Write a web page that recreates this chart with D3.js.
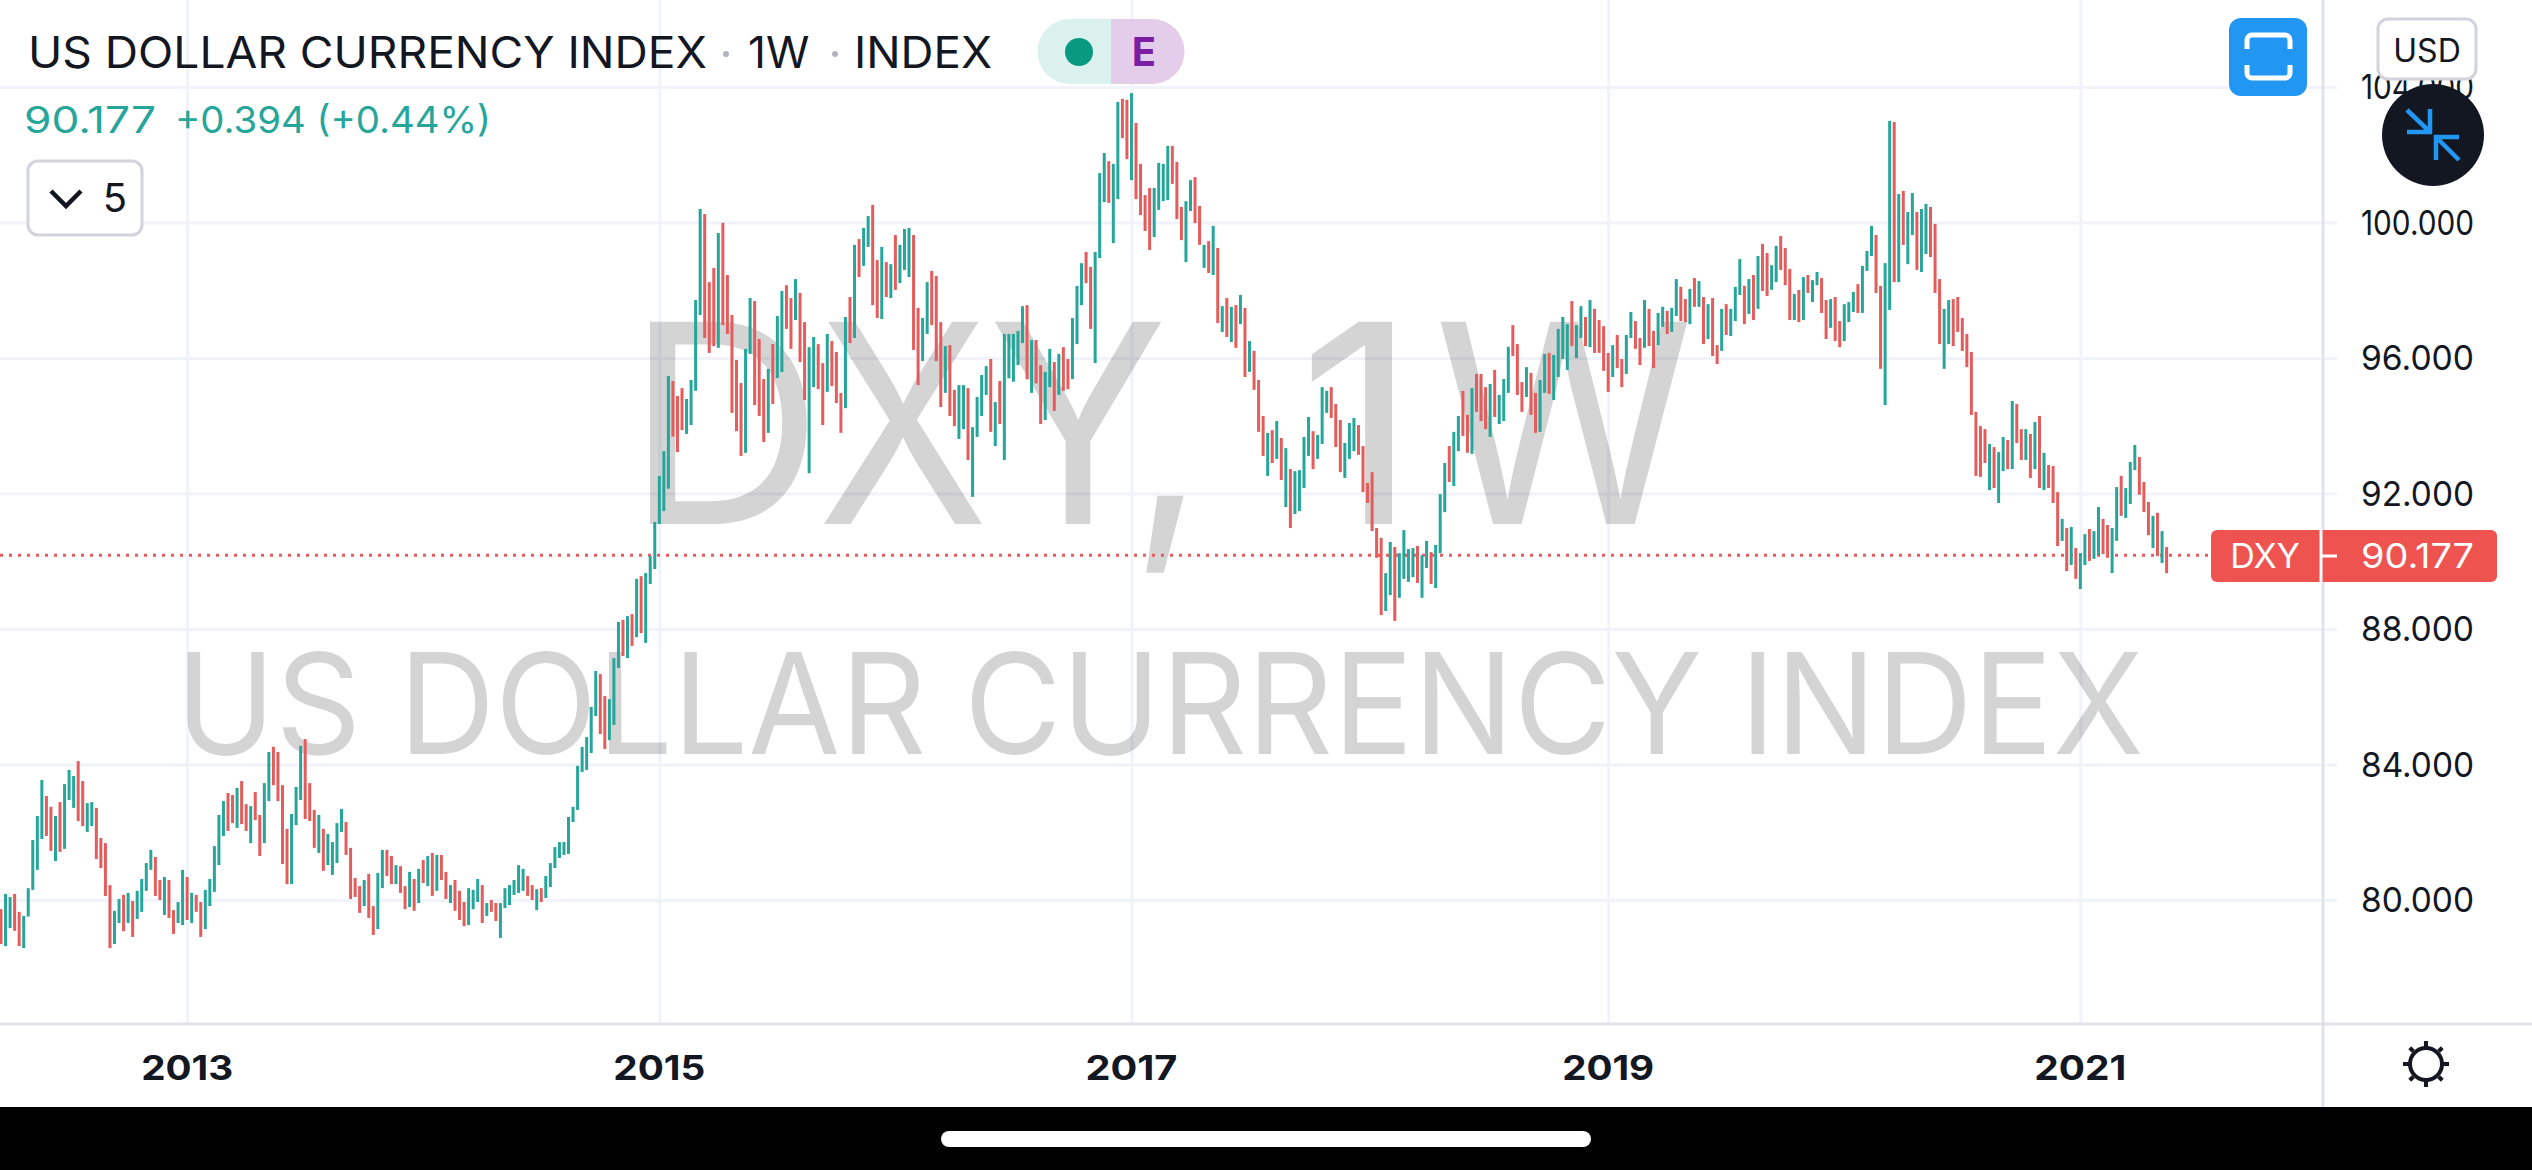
<!DOCTYPE html>
<html>
<head>
<meta charset="utf-8">
<title>US Dollar Currency Index</title>
<script src="https://d3js.org/d3.v7.min.js"></script>
<style>
body { margin: 0; background: #fff; overflow: hidden; }
text { font-family: Inter, "Noto Sans", sans-serif; fill: #131722; }
.axis path, .axis line { stroke: none; }
.grid line { stroke: #f0f3fa; stroke-width: 3; }
.grid text { display: none; }
</style>
</head>
<body>
<svg width="2532" height="1170"></svg>
<script>
// weekly bars
var highs = [
  79.73,80.18,80.09,80.18,79.65,79.53,80.35,81.77,82.48,83.54,
  83.07,82.75,82.48,82.89,83.42,83.84,83.66,84.10,83.51,82.86,
  82.89,82.72,81.83,81.68,80.44,79.68,80.03,80.15,80.21,79.97,
  80.27,80.62,81.09,81.48,81.27,80.59,80.68,80.59,79.70,79.94,
  80.89,80.68,80.21,80.15,79.94,80.30,80.62,81.59,82.51,82.92,
  83.16,83.10,83.31,83.51,82.83,82.77,83.19,82.51,83.45,84.37,
  84.52,84.37,83.39,82.10,82.54,83.34,84.55,84.75,83.45,82.66,
  82.51,82.10,81.95,81.71,82.27,82.69,82.30,81.54,80.65,80.41,
  80.59,80.77,79.82,80.80,81.48,81.48,81.30,81.03,81.00,80.41,
  80.83,80.62,80.92,81.18,81.30,81.39,81.33,81.33,80.83,80.44,
  80.59,80.27,79.94,80.35,80.30,80.62,80.44,79.91,80.00,79.91,
  79.91,80.35,80.44,80.59,81.03,80.92,80.71,80.44,80.32,80.35,
  80.71,81.09,81.56,81.71,81.71,82.45,82.75,83.96,84.52,84.81,
  85.70,86.76,86.67,86.02,85.93,87.14,88.21,88.27,88.38,88.44,
  89.48,89.56,89.65,90.15,91.16,92.52,93.25,95.47,95.32,94.88,
  95.11,94.79,95.35,97.71,100.40,100.25,98.24,98.66,99.69,99.99,
  98.45,97.27,95.94,95.26,96.27,97.77,97.68,96.56,95.38,95.68,
  96.41,97.24,97.98,98.15,97.77,98.33,97.92,97.06,96.32,96.62,
  96.41,95.85,96.71,96.50,96.18,94.97,97.21,97.80,99.34,99.51,
  99.84,100.19,100.52,98.89,99.28,98.83,98.77,99.63,99.34,99.81,
  99.84,99.63,97.48,97.18,98.24,98.57,98.42,97.06,96.35,96.38,
  95.06,95.20,95.20,95.11,93.96,94.85,95.50,95.76,95.97,94.70,
  95.32,96.71,96.71,96.71,96.80,97.53,97.56,96.53,96.53,95.79,
  95.59,96.27,95.88,96.12,96.32,95.97,97.18,98.13,98.80,99.13,
  98.69,99.13,101.46,102.05,101.81,101.73,103.56,103.65,103.62,103.82,
  102.94,101.73,100.81,101.02,101.02,101.76,101.73,102.26,102.26,101.79,
  100.46,100.63,101.25,101.34,100.49,99.34,99.45,99.90,99.25,97.53,
  97.77,97.51,97.56,97.86,97.48,96.50,96.21,95.35,94.29,93.79,
  93.87,94.14,93.64,93.34,92.72,92.66,92.69,93.67,94.26,93.84,
  93.73,95.14,95.03,95.14,94.64,94.17,93.49,94.08,94.23,94.02,
  93.40,92.31,92.63,90.98,90.69,89.65,90.57,90.42,90.24,90.92,
  90.36,90.39,90.45,90.18,90.60,90.27,90.48,91.98,92.90,93.40,
  93.82,94.29,95.03,94.32,95.11,95.53,95.53,95.14,95.23,95.65,
  94.91,95.38,96.33,96.97,96.41,95.29,95.73,95.56,94.97,95.35,
  96.12,96.15,96.09,96.86,97.21,97.00,97.68,96.97,97.53,97.21,
  97.71,97.45,97.12,96.94,96.15,96.38,96.68,95.97,96.68,97.36,
  97.09,96.59,97.71,97.45,96.80,97.33,97.51,97.39,97.48,98.33,
  98.10,97.74,98.04,98.36,98.27,97.80,97.59,97.77,96.38,97.45,
  97.59,97.45,98.10,98.92,98.13,98.33,98.45,99.01,99.37,99.10,
  98.74,99.31,99.60,99.25,98.63,97.89,98.01,98.39,98.45,98.30,
  98.54,98.36,97.71,97.74,97.80,97.09,97.59,97.65,97.95,98.18,
  98.72,99.16,99.90,99.63,98.13,98.80,103.00,102.97,100.84,100.93,
  100.31,100.87,100.31,100.40,100.55,100.46,99.96,98.33,97.45,97.71,
  97.74,97.80,97.18,96.71,96.18,94.41,93.99,93.90,93.46,93.37,
  93.22,93.67,93.58,94.73,94.64,93.90,93.90,93.76,94.11,94.29,
  93.20,92.84,92.81,92.04,91.25,90.98,91.01,90.39,90.24,90.80,
  90.95,90.89,91.60,91.25,91.07,90.98,92.19,92.52,92.16,92.93,
  93.43,93.08,92.34,91.75,91.34,91.43,90.89,90.42
];
var lows = [
  78.70,78.64,79.17,79.09,78.64,78.58,79.51,80.30,80.89,81.80,
  81.89,81.45,81.15,81.42,81.51,82.95,82.72,82.33,82.18,82.01,
  82.18,81.21,80.94,80.12,78.58,78.70,79.32,79.08,79.32,78.91,
  79.44,79.65,80.27,80.89,80.12,80.00,79.56,79.47,79.00,79.32,
  79.26,79.41,79.32,79.65,78.91,79.14,79.82,80.24,81.03,81.89,
  82.04,82.27,82.13,82.24,82.04,81.68,82.36,81.30,81.68,82.92,
  83.39,82.92,81.06,80.47,80.47,82.21,82.95,82.39,82.33,81.54,
  81.39,80.86,81.03,80.74,81.09,82.01,81.33,80.03,80.09,79.62,
  79.82,79.47,78.97,79.14,80.35,80.71,80.47,80.47,80.21,79.73,
  79.79,79.68,79.91,80.50,80.41,80.12,80.27,80.59,80.03,79.91,
  79.68,79.41,79.23,79.26,79.73,79.94,79.32,79.53,79.65,79.38,
  78.88,79.76,79.85,80.15,80.21,80.27,80.12,80.00,79.70,79.94,
  80.06,80.38,80.94,81.24,81.33,81.36,82.30,82.66,83.78,83.84,
  84.34,85.43,84.90,84.46,84.72,85.17,86.85,87.20,87.14,87.50,
  87.76,87.88,87.59,89.33,89.77,91.10,91.48,92.14,93.68,93.22,
  93.87,93.76,94.02,95.03,97.27,96.59,96.15,96.35,96.30,96.97,
  96.71,94.38,93.84,93.11,93.20,96.12,94.61,94.29,93.52,93.79,
  94.64,95.41,95.59,96.86,96.27,97.12,95.88,94.76,92.60,95.14,
  95.08,94.02,95.00,95.17,94.67,93.79,94.52,96.44,96.59,98.39,
  98.72,99.28,97.56,97.18,97.15,97.80,97.77,98.01,98.21,98.60,
  98.39,96.24,95.20,95.91,96.71,96.97,95.91,94.55,94.97,94.29,
  93.99,93.61,93.90,92.99,91.90,93.67,94.29,94.91,93.82,93.40,
  94.05,92.99,95.40,95.30,95.79,96.44,95.37,94.97,95.25,94.05,
  94.17,95.14,94.44,94.91,95.03,95.08,95.38,96.41,97.56,98.21,
  96.86,95.85,98.95,100.60,100.58,99.39,100.69,102.49,101.87,101.25,
  100.69,100.22,99.75,99.19,99.57,100.37,100.63,100.66,101.14,100.10,
  99.48,98.83,100.34,99.98,99.34,98.66,98.51,98.45,97.03,96.77,
  96.62,96.47,96.30,97.00,95.44,95.59,95.06,93.82,93.11,92.52,
  92.90,93.02,92.40,91.60,90.98,91.39,91.48,92.16,93.11,92.72,
  93.02,93.46,94.38,94.23,93.37,92.63,92.46,93.02,93.25,93.14,
  92.04,91.72,90.89,90.10,88.41,88.53,89.00,88.24,88.92,89.48,
  89.39,89.53,89.36,88.92,89.80,89.33,89.21,90.24,91.45,92.34,
  92.22,93.25,93.70,93.20,93.17,94.41,94.14,93.90,93.67,94.26,
  94.05,94.14,94.97,96.06,94.91,94.41,94.85,94.32,93.79,93.82,
  94.97,94.94,94.76,95.44,95.97,95.65,96.35,96.00,96.59,96.35,
  96.32,96.15,96.15,95.62,95.00,95.44,95.70,95.14,95.53,96.59,
  96.27,95.79,96.30,96.35,95.70,96.38,96.92,96.71,96.77,97.24,
  97.09,97.06,97.00,97.51,97.51,96.41,96.56,96.06,95.82,96.21,
  96.68,96.65,97.09,97.86,97.00,97.30,97.12,97.45,97.98,97.83,
  98.01,98.24,98.60,98.15,97.12,97.12,97.06,97.12,97.92,97.65,
  98.15,97.33,96.56,96.89,96.50,96.32,96.50,97.06,97.36,97.33,
  97.33,98.57,99.01,97.92,95.68,94.61,97.42,98.24,98.24,99.34,
  98.77,99.63,98.60,98.54,99.07,98.98,97.92,96.41,95.68,96.41,
  96.35,96.77,96.21,95.73,94.32,92.52,92.49,92.90,92.10,92.16,
  91.72,92.66,92.72,92.72,93.49,92.99,92.99,92.46,92.72,92.16,
  92.10,92.16,91.72,90.45,90.60,89.71,89.89,89.48,89.18,89.89,
  90.01,90.07,90.18,90.21,90.10,89.65,90.60,91.34,91.28,91.69,
  92.69,91.96,91.45,90.77,90.39,90.15,89.95,89.65
];
// 1 = week closed up, 0 = closed down
var ups = [
  0,1,1,0,0,1,1,1,1,1, 0,0,1,0,1,1,1,0,0,1, 1,0,0,0,0,1,1,0,1,0,
  1,1,1,1,0,0,1,0,0,1, 1,0,1,0,0,1,1,1,1,1, 0,0,1,0,0,1,0,0,1,1,
  0,0,0,0,1,1,1,0,0,0, 1,0,1,1,1,1,0,0,0,0, 1,0,0,1,1,0,0,1,0,0,
  1,0,1,0,1,0,1,0,0,1, 0,0,0,1,1,1,0,1,0,0, 1,1,1,1,1,1,0,0,1,0,
  1,1,1,1,1,1,1,1,1,1, 1,1,0,0,1,1,1,0,1,0, 1,0,1,1,1,1,1,1,0,0,
  0,1,1,1,1,0,0,0,1,0, 0,0,0,0,1,1,0,0,0,1, 0,1,1,0,0,1,0,0,1,1,
  0,0,1,0,0,0,1,0,1,0, 1,1,0,0,1,0,1,0,1,1, 1,0,0,1,1,0,0,0,1,0,
  0,1,1,0,1,1,1,1,0,1, 0,1,1,1,1,1,0,1,0,0, 1,1,0,1,0,0,1,1,1,0,
  0,1,1,1,0,1,1,0,0,1, 0,0,0,0,1,1,1,1,0,0, 0,1,1,0,0,1,0,1,0,1,
  0,1,0,1,0,1,0,0,0,1, 0,1,0,1,0,1,1,1,1,0, 1,1,1,0,0,0,1,1,1,0,
  0,0,0,0,0,1,1,0,1,1, 1,1,0,1,1,0,1,1,1,0, 1,1,0,0,1,0,0,0,1,0,
  1,1,1,0,0,0,1,0,0,1, 1,0,1,1,1,1,0,1,1,0, 1,0,0,0,0,1,0,0,1,1,
  0,0,1,0,0,1,1,0,1,1, 0,0,1,0,1,0,1,0,0,1, 0,1,1,1,0,1,0,1,0,0,
  1,1,0,0,0,1,0,1,0,1, 1,0,0,1,0,0,1,1,1,0, 1,1,1,0,0,1,1,0,1,0,
  1,1,0,1,1,0,0,0,1,1, 0,0,0,0,0,0,0,0,1,0, 1,1,0,1,0,0,1,0,1,0,
  1,0,0,0,1,0,1,0,1,1, 0,1,1,0,0,1,1,0,1,1, 1,0,0,0,1,0,1,0
];
var priceTicks = [80, 84, 88, 92, 96, 100, 104];
var yearLabels = ["2013", "2015", "2017", "2019", "2021"];
var yearBars = [41, 145, 249, 354, 458]; // bar index where each year starts
var lastPrice = 90.177;
var markGlyphs = ["D", "X", "Y", ",", "1", "W"];

var up = "#26a69a", down = "#e45c5c", ink = "#131722", gridEdge = "#e0e3eb";
var paneW = 2323, paneH = 1024;

var svg = d3.select("svg");
var x = d3.scaleLinear().domain([0, highs.length - 1]).range([1, 2166.6]);
var y = d3.scaleLinear().domain([80, 104]).range([900, 87]);
var price = d3.format(".3f");

// grid
svg.append("g").attr("class", "axis grid")
  .attr("transform", "translate(2337,0)")
  .call(d3.axisLeft(y).tickValues(priceTicks).tickSize(2337).tickFormat(""));
svg.append("g").attr("class", "axis grid")
  .attr("transform", "translate(0," + paneH + ")")
  .call(d3.axisBottom(d3.scaleOrdinal().domain(yearBars).range(yearBars.map(x)))
    .tickSize(-paneH).tickFormat(""));

// watermark goes over the grid, under the bars
// the ticker glyphs are spaced wider than the font does it, so place them one by one
var mark = svg.append("g").attr("class", "mark");
var markX = [626, 817, 988, 1130, 1298, 1434], markLen = [197, 172, 180, 75, 120, 260];
mark.append("g").selectAll("text").data(markGlyphs)
  .enter().append("text")
  .text(function(d) { return d; })
  .attr("x", function(d, i) { return markX[i]; })
  .attr("y", 524)
  .attr("font-size", 278)
  .attr("textLength", function(d, i) { return markLen[i]; })
  .attr("lengthAdjust", "spacingAndGlyphs");
mark.append("text").text("US DOLLAR CURRENCY INDEX")
  .attr("x", 1160).attr("y", 754).attr("text-anchor", "middle")
  .attr("font-size", 140).attr("textLength", 1968).attr("lengthAdjust", "spacingAndGlyphs");
mark.selectAll("text").style("fill", "#000").style("fill-opacity", 0.17);

// last price line
svg.append("line")
  .attr("x1", 0).attr("x2", 2212).attr("y1", y(lastPrice)).attr("y2", y(lastPrice))
  .attr("stroke", "#e45c5c").attr("stroke-width", 3).attr("stroke-dasharray", "3 6");

// bars
svg.append("g").selectAll("line")
  .data(highs)
  .enter().append("line")
  .attr("x1", function(d, i) { return x(i); })
  .attr("x2", function(d, i) { return x(i); })
  .attr("y1", function(d) { return y(d); })
  .attr("y2", function(d, i) { return y(lows[i]); })
  .attr("stroke", function(d, i) { return ups[i] ? up : down; })
  .attr("stroke-width", 3);

// pane edges
svg.append("line").attr("x1", 0).attr("x2", 2532).attr("y1", paneH).attr("y2", paneH)
  .attr("stroke", gridEdge).attr("stroke-width", 3);
svg.append("line").attr("x1", paneW).attr("x2", paneW).attr("y1", 0).attr("y2", 1107)
  .attr("stroke", gridEdge).attr("stroke-width", 3);

// price labels
svg.append("g")
  .attr("transform", "translate(2474,0)")
  .selectAll("text").data(priceTicks)
  .enter().append("text")
  .attr("y", function(d) { return y(d); })
  .attr("dy", "0.36em")
  .attr("text-anchor", "end")
  .attr("font-size", 34)
  .attr("textLength", 113)
  .attr("lengthAdjust", "spacingAndGlyphs")
  .text(price);

// year labels
svg.append("g").selectAll("text").data(yearLabels)
  .enter().append("text")
  .attr("x", function(d, i) { return x(yearBars[i]); })
  .attr("y", 1080)
  .attr("text-anchor", "middle")
  .attr("font-size", 34).attr("font-weight", 700)
  .attr("textLength", 92).attr("lengthAdjust", "spacingAndGlyphs")
  .text(function(d) { return d; });

// last price tag
svg.append("rect").attr("x", 2211).attr("y", 530).attr("width", 286).attr("height", 52).attr("rx", 6).attr("fill", "#ef5350");
svg.append("line").attr("x1", 2321).attr("x2", 2321).attr("y1", 530).attr("y2", 582).attr("stroke", "#fff").attr("stroke-width", 3);
svg.append("line").attr("x1", 2322).attr("x2", 2337).attr("y1", 556).attr("y2", 556).attr("stroke", "#fff").attr("stroke-width", 3);
svg.append("text").text("DXY").attr("x", 2265).attr("y", 568).attr("text-anchor", "middle").attr("font-size", 34).style("fill", "#fff");
svg.append("text").text(price(lastPrice)).attr("x", 2474).attr("y", 568).attr("text-anchor", "end")
  .attr("font-size", 34).attr("textLength", 113).attr("lengthAdjust", "spacingAndGlyphs").style("fill", "#fff");

// header
svg.append("text").text("US DOLLAR CURRENCY INDEX").attr("x", 28).attr("y", 68).attr("font-size", 44)
  .attr("textLength", 679).attr("lengthAdjust", "spacingAndGlyphs");
svg.append("circle").attr("cx", 726).attr("cy", 54).attr("r", 3).attr("fill", "#b2b5be");
svg.append("text").text("1W").attr("x", 748).attr("y", 68).attr("font-size", 44);
svg.append("circle").attr("cx", 835).attr("cy", 54).attr("r", 3).attr("fill", "#b2b5be");
svg.append("text").text("INDEX").attr("x", 854).attr("y", 68).attr("font-size", 44)
  .attr("textLength", 138).attr("lengthAdjust", "spacingAndGlyphs");
svg.append("text").text("90.177").attr("x", 24).attr("y", 133).attr("font-size", 37).style("fill", up)
  .attr("textLength", 132).attr("lengthAdjust", "spacingAndGlyphs");
svg.append("text").text("+0.394 (+0.44%)").attr("x", 175).attr("y", 133).attr("font-size", 37).style("fill", up)
  .attr("textLength", 316).attr("lengthAdjust", "spacingAndGlyphs");

// status pill
svg.append("path").attr("d", "M1111 19H1070a32.5 32.5 0 0 0 0 65H1111Z").attr("fill", "#daf1ee");
svg.append("path").attr("d", "M1111 19H1152a32.5 32.5 0 0 1 0 65H1111Z").attr("fill", "#e4cdea");
svg.append("circle").attr("cx", 1079).attr("cy", 52).attr("r", 14).attr("fill", "#089981");
svg.append("text").text("E").attr("x", 1144).attr("y", 66).attr("text-anchor", "middle")
  .attr("font-size", 40).attr("font-weight", 700).style("fill", "#7b1fa2");

// collapsed indicators button
svg.append("rect").attr("x", 28).attr("y", 161).attr("width", 114).attr("height", 74).attr("rx", 10)
  .attr("fill", "#fff").attr("stroke", "#d1d4dc").attr("stroke-width", 3);
svg.append("path").attr("d", "M51 191L66 206L81 191").attr("fill", "none").attr("stroke", ink).attr("stroke-width", 4.5);
svg.append("text").text("5").attr("x", 115).attr("y", 212).attr("text-anchor", "middle").attr("font-size", 40);

// fullscreen button
svg.append("rect").attr("x", 2229).attr("y", 18).attr("width", 78).attr("height", 78).attr("rx", 12).attr("fill", "#2196f3");
svg.append("path").attr("d", "M2247 49V40a5 5 0 0 1 5-5H2285a5 5 0 0 1 5 5V49M2247 65V73a5 5 0 0 0 5 5H2285a5 5 0 0 0 5-5V65")
  .attr("fill", "none").attr("stroke", "#fff").attr("stroke-width", 5);

// currency button + collapse circle, these sit over the 104 label
svg.append("rect").attr("x", 2378).attr("y", 19).attr("width", 98).attr("height", 60).attr("rx", 10)
  .attr("fill", "#fff").attr("stroke", "#d1d4dc").attr("stroke-width", 3);
svg.append("text").text("USD").attr("x", 2427).attr("y", 62).attr("text-anchor", "middle").attr("font-size", 32);
svg.append("circle").attr("cx", 2433).attr("cy", 135).attr("r", 51).attr("fill", ink);
svg.append("path")
  .attr("d", "M2407 110L2429 131M2430 109V132H2407M2459 160L2437 138M2436 160V137H2459")
  .attr("fill", "none").attr("stroke", "#2196f3").attr("stroke-width", 4.5);

// theme icon
var sun = svg.append("g").attr("transform", "translate(2426,1064)");
sun.append("circle").attr("r", 16).attr("fill", "none").attr("stroke", ink).attr("stroke-width", 4);
sun.selectAll("line").data(d3.range(8)).enter().append("line")
  .attr("y1", function(d) { return d % 2 ? -18 : -16; }).attr("y2", -23)
  .attr("transform", function(d) { return "rotate(" + d * 45 + ")"; })
  .attr("stroke", ink).attr("stroke-width", 4);

// phone bar
svg.append("rect").attr("x", 0).attr("y", 1107).attr("width", 2532).attr("height", 63).attr("fill", "#000");
svg.append("rect").attr("x", 941).attr("y", 1131).attr("width", 650).attr("height", 16).attr("rx", 8).attr("fill", "#fff");
</script>
</body>
</html>
